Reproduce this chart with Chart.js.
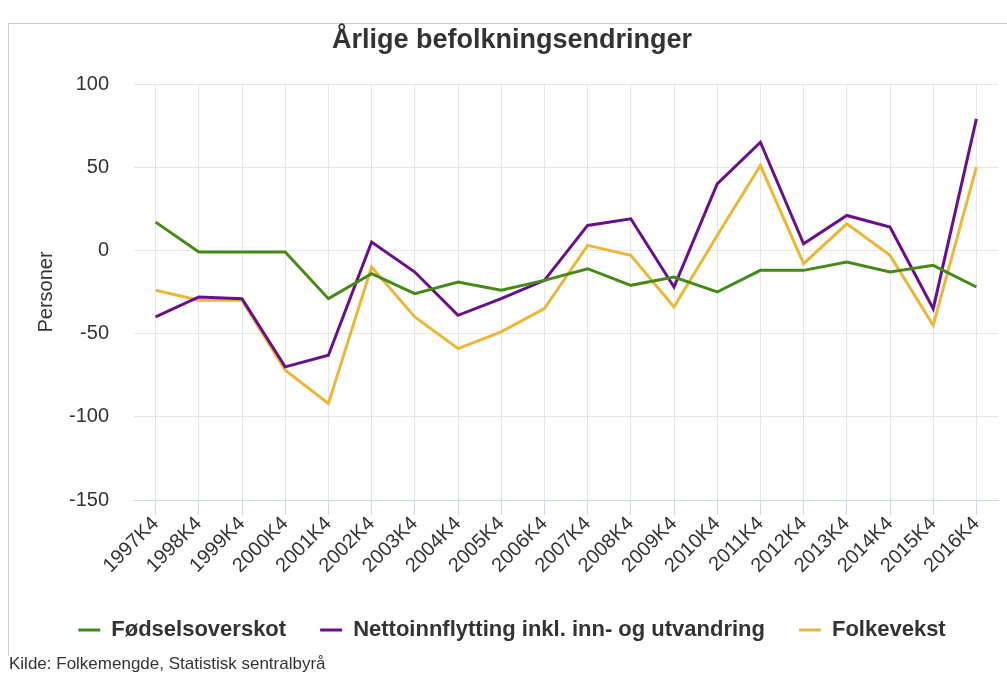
<!DOCTYPE html>
<html>
<head>
<meta charset="utf-8">
<script src="https://cdn.jsdelivr.net/npm/chart.js@4.4.0/dist/chart.umd.min.js"></script>
<style>
  body { margin: 0; background: #fff; }
  #frame { position: absolute; left: 8px; top: 23px; width: 1010px; height: 632px;
           border-left: 1px solid #ccc; border-top: 1px solid #ccc; }
  #chart { position: absolute; left: 0; top: 0; }
  #source { position: absolute; left: 9px; top: 654px; font: 17px "Liberation Sans", Arial, sans-serif; color: #333; }
</style>
</head>
<body>
<div id="frame"></div>
<canvas id="chart" width="1007" height="677"></canvas>
<div id="source">Kilde: Folkemengde, Statistisk sentralbyrå</div>
<script>
// Categories (quarter 4 each year)
const years = ['1997K4', '1998K4', '1999K4', '2000K4', '2001K4', '2002K4', '2003K4', '2004K4', '2005K4', '2006K4',
               '2007K4', '2008K4', '2009K4', '2010K4', '2011K4', '2012K4', '2013K4', '2014K4', '2015K4', '2016K4'];

// Series values
const fodselsoverskot = [17, -1, -1, -1, -29, -14, -26, -19, -24, -18, -11, -21, -16, -25, -12, -12, -7, -13, -9, -22];
const nettoinnflytting = [-40, -28, -29, -70, -63, 5, -13, -39, -29, -18, 15, 19, -22, 40, 65, 4, 21, 14, -35, 79];
const folkevekst = [-24, -30, -30, -72, -92, -10, -40, -59, -49, -35, 3, -3, -34, 9, 51, -8, 16, -3, -45, 50];

// Y axis range
const yMin = -150;
const yMax = 100;
const yStep = 50;

const textColor = '#333';
const sans = 'Liberation Sans';

new Chart(document.getElementById('chart').getContext('2d'), {
    type: 'line',
    data: {
        labels: years,
        datasets: [
            { label: 'Fødselsoverskot', data: fodselsoverskot, borderColor: '#458a17', backgroundColor: '#458a17' },
            { label: 'Nettoinnflytting inkl. inn- og utvandring', data: nettoinnflytting, borderColor: '#680f8c', backgroundColor: '#680f8c' },
            { label: 'Folkevekst', data: folkevekst, borderColor: '#e9b83a', backgroundColor: '#e9b83a' }
        ].map(d => Object.assign(d, { borderWidth: 3, pointRadius: 0, tension: 0, fill: false }))
    },
    options: {
        responsive: false,
        devicePixelRatio: 1,
        animation: false,
        events: [],
        layout: { padding: { left: 26, right: 9, top: 0, bottom: 26 } },
        plugins: {
            title: {
                display: true,
                text: 'Årlige befolkningsendringer',
                color: textColor,
                font: { family: sans, size: 27, weight: 'bold' },
                padding: { top: 24, bottom: 27.6 }
            },
            legend: {
                position: 'bottom',
                labels: {
                    usePointStyle: true,
                    pointStyleWidth: 22,
                    pointStyle: 'line',
                    padding: 34,
                    color: textColor,
                    font: { family: sans, size: 22, weight: 'bold' }
                }
            },
            tooltip: { enabled: false }
        },
        scales: {
            x: {
                offset: true,
                grid: { color: '#e6e6e6', tickColor: '#ccd6eb', tickLength: 15, offset: false },
                border: { color: '#ccd6eb' },
                ticks: {
                    autoSkip: false,
                    minRotation: 45,
                    maxRotation: 45,
                    padding: -3,
                    color: textColor,
                    font: { family: sans, size: 20 }
                },
                afterFit: scale => { scale.height = 85; }
            },
            y: {
                min: yMin,
                max: yMax,
                grid: { color: '#e6e6e6', drawTicks: false },
                border: { display: false },
                ticks: {
                    stepSize: yStep,
                    padding: 25,
                    color: textColor,
                    font: { family: sans, size: 20 }
                },
                title: {
                    display: true,
                    text: 'Personer',
                    color: textColor,
                    font: { family: sans, size: 20 },
                    padding: { top: 8, bottom: 0 }
                },
                afterFit: scale => { scale.width = 108; }
            }
        }
    }
});
</script>
</body>
</html>
